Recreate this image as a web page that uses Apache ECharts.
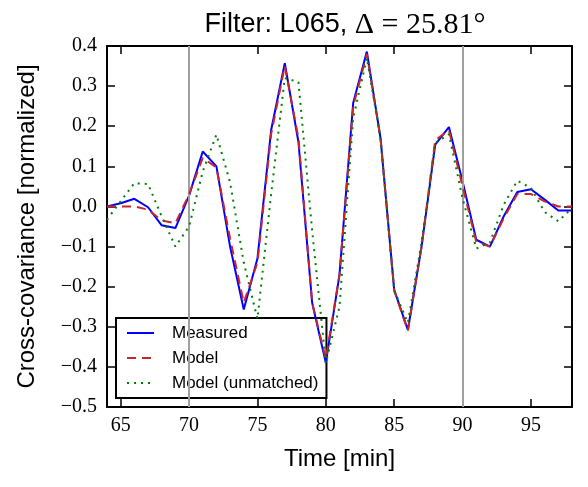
<!DOCTYPE html>
<html>
<head>
<meta charset="utf-8">
<script src="https://cdn.jsdelivr.net/npm/echarts@6/dist/echarts.min.js"></script>
<style>
  html, body { margin: 0; padding: 0; background: #fff; }
</style>
</head>
<body>
<div id="main" style="width: 588px; height: 487px;"></div>
<script>
// sample times [min]
const times = [64, 65, 66, 67, 68, 69, 70, 71, 72, 73, 74, 75, 76, 77, 78, 79, 80, 81,
  82, 83, 84, 85, 86, 87, 88, 89, 90, 91, 92, 93, 94, 95, 96, 97, 98]

const measured = [0.0, 0.008, 0.019, -0.002, -0.047, -0.054, 0.027, 0.137, 0.10, -0.10,
  -0.257, -0.13, 0.19, 0.357, 0.16, -0.24, -0.39, -0.17, 0.258, 0.386, 0.17, -0.208,
  -0.308, -0.10, 0.154, 0.198, 0.062, -0.083, -0.10, -0.025, 0.036, 0.043, 0.017, -0.01, -0.01]

const model = [0.0, 0.0, 0.0, -0.008, -0.035, -0.042, 0.03, 0.121, 0.097, -0.08,
  -0.24, -0.14, 0.18, 0.35, 0.17, -0.24, -0.38, -0.17, 0.25, 0.38, 0.17, -0.21,
  -0.31, -0.10, 0.165, 0.19, 0.05, -0.088, -0.10, -0.03, 0.031, 0.031, 0.0125, 0.0, 0.0]

const unmatched = [-0.033, 0.013, 0.058, 0.056, -0.025, -0.10, -0.05, 0.087, 0.179, 0.06,
  -0.14, -0.28, 0.03, 0.32, 0.31, -0.06, -0.39, -0.25, 0.22, 0.37, 0.17, -0.21,
  -0.29, -0.09, 0.158, 0.18, 0.02, -0.105, -0.09, 0.004, 0.064, 0.046, -0.014, -0.037, -0.004]

const xTicks = [65, 70, 75, 80, 85, 90, 95]
const markers = [70, 90]

const sans = 'Liberation Sans'
const serif = 'Liberation Serif'

const pairs = arr => times.map((t, i) => [t, arr[i]])
const fmtY = v => {
  const s = Math.abs(v).toFixed(1)
  return v < -1e-9 ? '\u2212' + s : s
}

// 基于准备好的dom，初始化echarts实例
var myChart = echarts.init(document.getElementById('main'))

const frame = { show: true, onZero: false, lineStyle: { color: '#000', width: 2 } }
const tick = { show: true, inside: true, length: 8, lineStyle: { color: '#000', width: 1.5 } }

myChart.setOption({
  animation: false,
  backgroundColor: '#fff',
  title: {
    text: '{a|Filter: L065, }{b|\u0394 = 25.81\u00b0}',
    left: 340,
    top: 5,
    textAlign: 'center',
    textStyle: {
      fontWeight: 'normal',
      rich: {
        a: { fontFamily: sans, fontSize: 27, fontWeight: 'normal', color: '#000' },
        b: { fontFamily: serif, fontSize: 30, fontWeight: 'normal', color: '#000' }
      }
    }
  },
  grid: { left: 107, top: 46, right: 16, bottom: 80 },
  legend: {
    orient: 'vertical',
    left: 116,
    top: 318,
    padding: [6, 8, 6, 10],
    itemGap: 7,
    itemWidth: 27,
    itemHeight: 14,
    itemStyle: { opacity: 0 },
    backgroundColor: '#fff',
    borderColor: '#000',
    borderWidth: 2,
    borderRadius: 0,
    textStyle: { fontFamily: sans, fontSize: 17, color: '#000', padding: [0, 0, 0, 13], lineHeight: 18 },
    data: ['Measured', 'Model', 'Model (unmatched)']
  },
  xAxis: [{
    type: 'value',
    min: 64,
    max: 98,
    name: 'Time [min]',
    nameLocation: 'middle',
    nameGap: 40,
    nameTextStyle: { fontFamily: sans, fontSize: 24, color: '#000' },
    axisLine: frame,
    axisTick: Object.assign({}, tick, { customValues: xTicks }),
    axisLabel: { customValues: xTicks, fontFamily: serif, fontSize: 20, color: '#000', margin: 9 },
    splitLine: { show: false }
  }, {
    type: 'value',
    position: 'top',
    min: 64,
    max: 98,
    axisLine: frame,
    axisTick: Object.assign({}, tick, { customValues: xTicks }),
    axisLabel: { show: false },
    splitLine: { show: false }
  }],
  yAxis: [{
    type: 'value',
    min: -0.5,
    max: 0.4,
    interval: 0.1,
    name: 'Cross-covariance [normalized]',
    nameLocation: 'middle',
    nameGap: 68,
    nameTextStyle: { fontFamily: sans, fontSize: 24, color: '#000' },
    axisLine: frame,
    axisTick: tick,
    axisLabel: { formatter: fmtY, fontFamily: serif, fontSize: 20, color: '#000', margin: 10 },
    splitLine: { show: false }
  }, {
    type: 'value',
    position: 'right',
    min: -0.5,
    max: 0.4,
    interval: 0.1,
    axisLine: frame,
    axisTick: tick,
    axisLabel: { show: false },
    splitLine: { show: false }
  }],
  series: [{
    name: 'Measured',
    type: 'line',
    symbol: 'none',
    data: pairs(measured),
    lineStyle: { color: '#0000ff', width: 2 },
    itemStyle: { color: '#0000ff' },
    z: 4,
    markLine: {
      silent: true,
      symbol: 'none',
      label: { show: false },
      lineStyle: { color: '#a0a0a0', width: 2, type: 'solid' },
      data: markers.map(m => ({ xAxis: m }))
    }
  }, {
    name: 'Model',
    type: 'line',
    symbol: 'none',
    data: pairs(model),
    lineStyle: { color: '#c8262b', width: 2, type: [9, 6] },
    itemStyle: { color: '#c8262b' },
    z: 5
  }, {
    name: 'Model (unmatched)',
    type: 'line',
    symbol: 'none',
    data: pairs(unmatched),
    lineStyle: { color: '#008000', width: 2, type: [2, 5] },
    itemStyle: { color: '#008000' },
    z: 6
  }]
})
</script>
</body>
</html>
